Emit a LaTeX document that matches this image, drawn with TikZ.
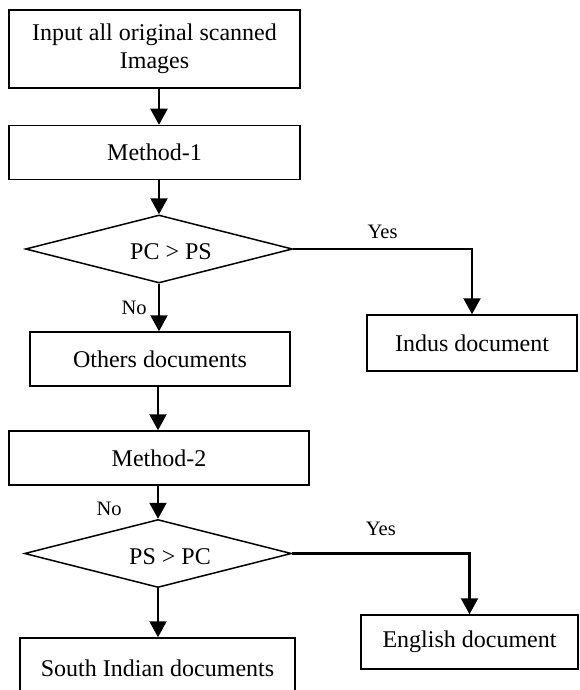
\documentclass[tikz,border=0pt]{standalone}
\usepackage{fontspec}
\setmainfont{Liberation Serif}
\usetikzlibrary{arrows.meta,positioning,shapes.geometric}

\begin{document}
\begin{tikzpicture}[
  x=1pt, y=-1pt,
  box/.style={draw, line width=1.5pt, minimum height=54pt, inner sep=0pt, align=center, font=\fontsize{24}{28}\selectfont},
  dec/.style={diamond, draw, line width=1.5pt, inner sep=0pt, aspect=3.9, minimum width=267pt, minimum height=68pt},
  dectext/.style={font=\fontsize{24}{28}\selectfont, xshift=12pt, yshift=-3pt},
  lbl/.style={font=\fontsize{20.5}{24}\selectfont},
  arr/.style={-{Triangle[length=16pt,width=17pt]}, line width=2.2pt}
]
\clip (0,0) rectangle (579,690);

\node[box, minimum width=291pt, minimum height=78pt] (input) at (154.5,49) {Input all original scanned\\Images};
\node[box, minimum width=291pt] (meth1) at (154.5,152.5) {Method-1};
\node[dec, label={[dectext]center:PC > PS}] (dec1) at (159,249) {};
\node[box, minimum width=260pt] (others) at (160,359) {Others documents};
\node[box, minimum width=210pt, minimum height=56pt] (indus) at (472,343) {Indus document};
\node[box, minimum width=300pt] (meth2) at (159,458) {Method-2};
\node[dec, label={[dectext]center:PS > PC}] (dec2) at (158,553.5) {};
\node[box, minimum width=217pt] (english) at (469.5,642) {English document};
\node[box, minimum width=275pt, minimum height=60pt] (south) at (157.5,668) {South Indian documents};

\draw[arr] (input.south -| dec1.north) -- (meth1.north -| dec1.north);
\draw[arr] (meth1.south -| dec1.north) -- (dec1.north);
\draw[arr] (dec1.east) -| node[lbl, pos=0.25, above=6pt] (yes1) {Yes} (indus.north);
\draw[arr] (dec1.south) -- node[lbl, left=8pt] (no1) {No} (others.north -| dec1.south);
\draw[arr] (others.south -| dec2.north) -- (meth2.north -| dec2.north);
\draw[arr] (meth2.south -| dec2.north) -- node[lbl, pos=0.7, left=32pt] (no2) {No} (dec2.north);
\draw[arr] (dec2.east) -| node[lbl, pos=0.25, above=13pt] (yes2) {Yes} (english.north);
\draw[arr] (dec2.south) -- (south.north -| dec2.south);
\end{tikzpicture}
\end{document}
